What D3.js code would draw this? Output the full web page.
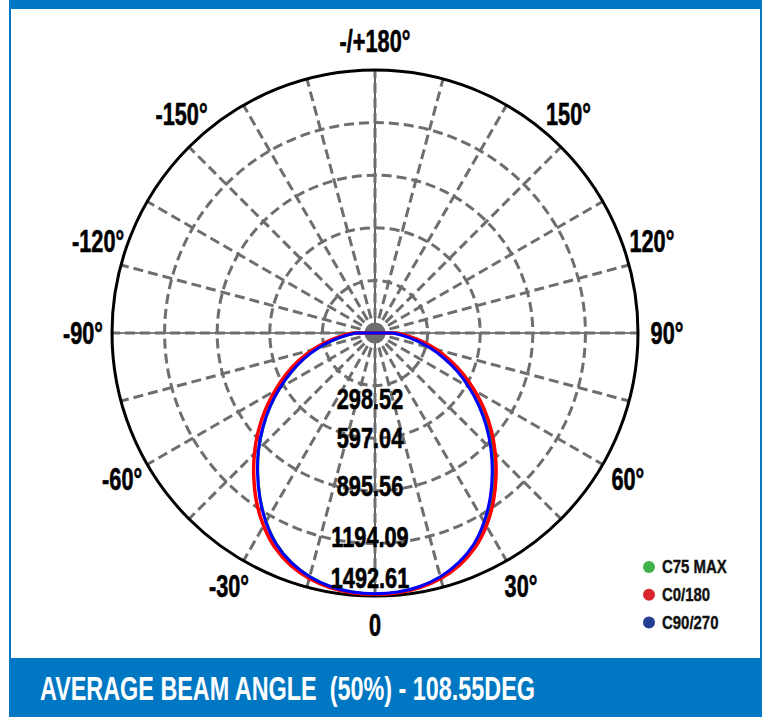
<!DOCTYPE html>
<html><head><meta charset="utf-8">
<script src="https://cdn.jsdelivr.net/npm/d3@7/dist/d3.min.js"></script>
<style>
html,body{margin:0;padding:0;background:#fff;}
svg{display:block;}
text{font-family:'Liberation Sans',Arial,sans-serif;font-weight:bold;}
</style></head>
<body>
<svg id="chart" width="764" height="717"></svg>
<script>
// ---- data ----
const angles = [-90,-85,-80,-75,-70,-65,-60,-55,-50,-45,-40,-35,-30,-25,-20,-15,-10,-5,0,5,10,15,20,25,30,35,40,45,50,55,60,65,70,75,80,85,90];
const c90_270 = [108,168,248,338,432,525,624,727,830,935,1037,1140,1238,1324,1387,1432,1461,1476,1480,1476,1461,1432,1387,1324,1238,1140,1035,930,825,720,615,515,415,320,232,155,100];
const c0_180  = [120,188,272,366,462,558,656,760,864,968,1070,1172,1264,1344,1402,1442,1467,1480,1483,1480,1467,1442,1402,1344,1264,1170,1068,965,862,758,652,552,455,360,270,185,118];
const c75_max = [106,166,246,336,430,523,622,725,828,933,1035,1138,1236,1322,1386,1431,1460,1475,1481,1478,1463,1435,1392,1331,1248,1152,1050,946,842,737,632,530,432,336,248,168,108];
const ringValues = [298.52, 597.04, 895.56, 1194.09, 1492.61];
const ringLabels = ["298.52","597.04","895.56","1194.09","1492.61"];
const tickAngles = [0,30,60,90,120,150,180,-150,-120,-90,-60,-30];
const tickLabels = ["0","30°","60°","90°","120°","150°","-/+180°","-150°","-120°","-90°","-60°","-30°"];
const seriesNames = ["C75 MAX","C0/180","C90/270"];
const titleText = "AVERAGE BEAM ANGLE  (50%) - 108.55DEG";

// ---- layout ----
const W = 764, H = 717, cx = 375, cy = 333, R = 263;
const frameBlue = "#0077c2";
const gridGray = "#6e6e6e";
const lineColors = ["#1a9a3a","#ff0000","#0000ff"];
const legendColors = ["#3cb44b","#d7262e","#223f94"];
const ringLabelDy = [13,-1,-5,-7,-18];

const svg = d3.select("#chart");
const rScale = d3.scaleLinear().domain([0, 1492.61]).range([0, R]);
const toRad = deg => Math.PI - deg * Math.PI / 180; // 0deg at bottom, positive to right

// frame
svg.append("rect").attr("x",9).attr("y",0).attr("width",753).attr("height",717).attr("fill",frameBlue);
svg.append("rect").attr("x",11).attr("y",9).attr("width",749).attr("height",649).attr("fill","#fff");

const g = svg.append("g").attr("transform",`translate(${cx},${cy})`);

// axes thin black lines
g.append("line").attr("x1",-R).attr("x2",R).attr("y1",0).attr("y2",0).attr("stroke","#000").attr("stroke-width",1.2);
g.append("line").attr("y1",-R).attr("y2",R).attr("x1",0).attr("x2",0).attr("stroke","#000").attr("stroke-width",1.2);

// spokes every 15 deg
const spokes = d3.range(0,360,15);
g.selectAll("line.spoke").data(spokes).enter().append("line")
  .attr("class","spoke")
  .attr("x1",0).attr("y1",0)
  .attr("x2",d => R*Math.sin(toRad(d)))
  .attr("y2",d => -R*Math.cos(toRad(d)))
  .attr("stroke",gridGray).attr("stroke-width",3).attr("stroke-dasharray","10,5");

// dashed rings
g.selectAll("circle.ring").data(ringValues.slice(0,4)).enter().append("circle")
  .attr("class","ring").attr("r",d => rScale(d))
  .attr("fill","none").attr("stroke",gridGray).attr("stroke-width",3).attr("stroke-dasharray","10,5");

// outer circle
g.append("circle").attr("r",R).attr("fill","none").attr("stroke","#000").attr("stroke-width",3);

// center dot
g.append("circle").attr("r",10.5).attr("fill","#6e6e6e");

// curves
const series = [c75_max, c0_180, c90_270];
const lineGen = d3.lineRadial()
  .angle(d => toRad(d[0]))
  .radius(d => rScale(d[1]))
  .curve(d3.curveCatmullRom);
series.forEach((vals,i) => {
  const pts = angles.map((a,j) => [a, vals[j]]);
  g.append("path")
    .attr("d", lineGen(pts) + "L0,0Z")
    .attr("fill","none").attr("stroke",lineColors[i])
    .attr("stroke-width", i===1 ? 3.5 : 3)
    .attr("stroke-linejoin","round");
});

// ring labels
ringValues.forEach((v,i) => {
  g.append("g").attr("transform",`translate(-5,${rScale(v)+ringLabelDy[i]}) scale(0.75,1)`)
   .append("text").attr("text-anchor","middle").attr("dy","0.36em")
   .attr("font-size",29).attr("fill","#000").attr("stroke","#000").attr("stroke-width",0.6)
   .text(ringLabels[i]);
});

// angle labels
const labelR = 292;
tickAngles.forEach((a,i) => {
  let phi = a;
  if (Math.abs(a) > 90 && Math.abs(a) < 180) phi = a - Math.sign(a)*11.5;
  const t = toRad(phi);
  const x = labelR*Math.sin(t), y = -labelR*Math.cos(t);
  g.append("g").attr("transform",`translate(${x},${y}) scale(0.7,1)`)
   .append("text").attr("text-anchor","middle").attr("dy","0.36em")
   .attr("font-size",31).attr("fill","#000").attr("stroke","#000").attr("stroke-width",0.6)
   .text(tickLabels[i]);
});

// legend
const legend = svg.append("g").attr("transform","translate(649,567)");
seriesNames.forEach((n,i) => {
  const row = legend.append("g").attr("transform",`translate(0,${i*27.8})`);
  row.append("circle").attr("r",6).attr("fill",legendColors[i]);
  row.append("g").attr("transform","translate(13,0) scale(0.83,1)")
    .append("text").attr("dy","0.36em").attr("font-size",18).attr("fill","#111")
    .attr("stroke","#111").attr("stroke-width",0.4).text(n);
});

// title
svg.append("text").attr("x",40).attr("y",688).attr("dy","0.36em")
  .attr("font-size",33).attr("fill","#fff")
  .style("white-space","pre").attr("xml:space","preserve")
  .attr("textLength",495).attr("lengthAdjust","spacingAndGlyphs")
  .text(titleText);
</script>
</body></html>
